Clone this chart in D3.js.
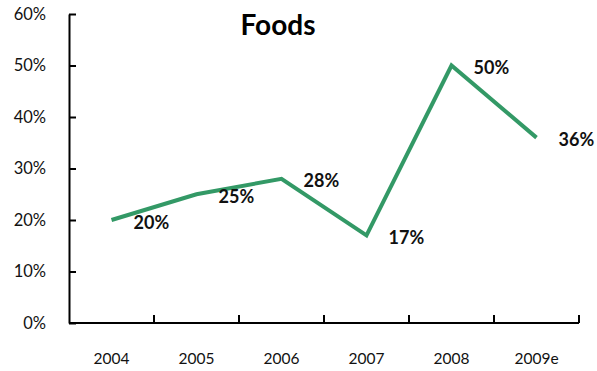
<!DOCTYPE html>
<html>
<head>
<meta charset="utf-8">
<script src="https://cdn.jsdelivr.net/npm/d3@7/dist/d3.min.js"></script>
<style>
  html, body { margin: 0; padding: 0; background: #fff; }
  svg { display: block; }
</style>
</head>
<body>
<svg id="chart" width="597" height="371"></svg>
<script>
// Foods: yearly growth, share of total
const years = ["2004", "2005", "2006", "2007", "2008", "2009e"];
const values = [0.20, 0.25, 0.28, 0.17, 0.50, 0.36];
const yTicks = [0, 0.1, 0.2, 0.3, 0.4, 0.5, 0.6];
const title = "Foods";

const svg = d3.select("#chart");
const margin = { left: 69, right: 18, top: 14, bottom: 48 };
const width = 597, height = 371;
const font = "Lato, 'Open Sans', sans-serif";

const x = d3.scaleBand()
  .domain(years)
  .range([margin.left, width - margin.right])
  .padding(0);

const y = d3.scaleLinear()
  .domain([0, 0.6])
  .range([height - margin.bottom, margin.top]);

const fmt = d3.format(".0%");

// Y axis with inward ticks
const yAxis = svg.append("g")
  .attr("transform", `translate(${margin.left},0)`)
  .call(d3.axisLeft(y).tickValues(yTicks).tickFormat(fmt).tickSizeInner(-7).tickSizeOuter(0).tickPadding(23));
yAxis.select(".domain").attr("stroke", "#000").attr("stroke-width", 2);
yAxis.selectAll(".tick line").attr("stroke", "#000").attr("stroke-width", 2);
yAxis.selectAll(".tick text")
  .attr("font-family", font).attr("font-size", 16.5).attr("fill", "#111");

// X axis: ticks at category boundaries, pointing upward
const xAxisG = svg.append("g")
  .attr("transform", `translate(0,${y(0)})`);
xAxisG.append("line")
  .attr("x1", margin.left).attr("x2", width - margin.right)
  .attr("stroke", "#000").attr("stroke-width", 2);
const boundaries = years.map(d => x(d) + x.bandwidth());
xAxisG.selectAll("line.tick")
  .data(boundaries)
  .join("line")
  .attr("class", "tick")
  .attr("x1", d => d).attr("x2", d => d)
  .attr("y1", 0).attr("y2", -8)
  .attr("stroke", "#000").attr("stroke-width", 2);
xAxisG.selectAll("text")
  .data(years)
  .join("text")
  .attr("x", d => x(d) + x.bandwidth() / 2)
  .attr("y", 41)
  .attr("text-anchor", "middle")
  .attr("font-family", font).attr("font-size", 15.5).attr("fill", "#111")
  .text(d => d);

// Series line
const line = d3.line()
  .x((d, i) => x(years[i]) + x.bandwidth() / 2)
  .y(d => y(d));

svg.append("path")
  .datum(values)
  .attr("d", line)
  .attr("fill", "none")
  .attr("stroke", "#339966")
  .attr("stroke-width", 4)
  .attr("stroke-linejoin", "miter");

// Value labels
svg.selectAll("text.val")
  .data(values)
  .join("text")
  .attr("class", "val")
  .attr("x", (d, i) => x(years[i]) + x.bandwidth() / 2 + 22)
  .attr("y", d => y(d) + 8.5)
  .attr("font-family", font).attr("font-weight", "bold").attr("font-size", 18).attr("fill", "#111")
  .text(d => fmt(d));

// Title
svg.append("text")
  .attr("x", 278)
  .attr("y", 35)
  .attr("text-anchor", "middle")
  .attr("font-family", font).attr("font-weight", "bold").attr("font-size", 28).attr("fill", "#000")
  .text(title);
</script>
</body>
</html>
